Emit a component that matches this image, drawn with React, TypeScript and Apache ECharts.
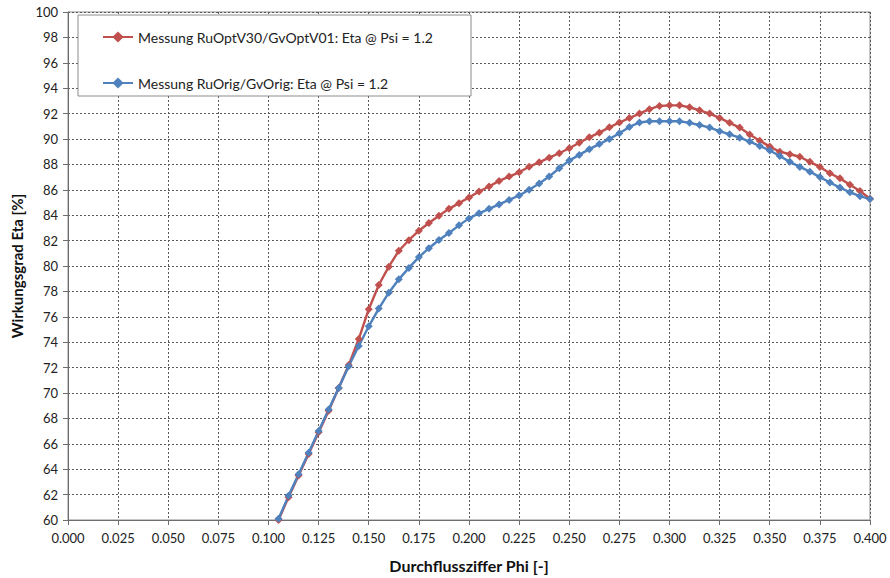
import React, { useEffect, useRef } from "react";
import * as echarts from "echarts";

const phi = [
  0.105, 0.11, 0.115, 0.12, 0.125, 0.13, 0.135, 0.14, 0.145, 0.15,
  0.155, 0.16, 0.165, 0.17, 0.175, 0.18, 0.185, 0.19, 0.195, 0.2,
  0.205, 0.21, 0.215, 0.22, 0.225, 0.23, 0.235, 0.24, 0.245, 0.25,
  0.255, 0.26, 0.265, 0.27, 0.275, 0.28, 0.285, 0.29, 0.295, 0.3,
  0.305, 0.31, 0.315, 0.32, 0.325, 0.33, 0.335, 0.34, 0.345, 0.35,
  0.355, 0.36, 0.365, 0.37, 0.375, 0.38, 0.385, 0.39, 0.395, 0.4,
];

const etaOptV30 = [
  60.0, 61.8, 63.5, 65.2, 66.9, 68.6, 70.4, 72.2, 74.25, 76.6,
  78.5, 79.95, 81.2, 82.03, 82.78, 83.38, 83.95, 84.5, 84.95, 85.4,
  85.87, 86.26, 86.7, 87.04, 87.38, 87.82, 88.16, 88.53, 88.88, 89.27,
  89.7, 90.13, 90.5, 90.92, 91.3, 91.65, 92.0, 92.35, 92.6, 92.65,
  92.65, 92.5, 92.26, 92.0, 91.66, 91.27, 90.9, 90.36, 89.87, 89.4,
  89.0, 88.8, 88.6, 88.2, 87.8, 87.3, 86.9, 86.4, 85.9, 85.3,
];

const etaOrig = [
  60.1, 61.9, 63.6, 65.3, 67.0, 68.7, 70.4, 72.1, 73.7, 75.25,
  76.65, 77.9, 78.95, 79.85, 80.7, 81.4, 82.05, 82.6, 83.2, 83.75,
  84.15, 84.5, 84.85, 85.2, 85.55, 86.0, 86.5, 87.05, 87.7, 88.3,
  88.75, 89.2, 89.6, 90.0, 90.45, 90.95, 91.3, 91.4, 91.4, 91.4,
  91.4, 91.27, 91.1, 90.9, 90.62, 90.37, 90.1, 89.8, 89.45, 89.1,
  88.66, 88.2, 87.8, 87.43, 87.0, 86.57, 86.18, 85.8, 85.5, 85.27,
];

const seriesNames = [
  "Messung RuOptV30/GvOptV01: Eta @ Psi = 1.2",
  "Messung RuOrig/GvOrig: Eta @ Psi = 1.2",
];
const xAxisTitle = "Durchflussziffer Phi [-]";
const yAxisTitle = "Wirkungsgrad Eta [%]";

const FONT = "Lato, 'Open Sans', sans-serif";

export default function App() {
  const ref = useRef<HTMLDivElement>(null);
  useEffect(() => {
    if (!ref.current) return;
    const chart = echarts.init(ref.current, undefined, { renderer: "svg" });
    const mk = (name: string, vals: number[], color: string) => ({
      name,
      type: "line",
      data: phi.map((p, i) => [p, vals[i]]),
      symbol: "diamond",
      symbolSize: 8,
      showSymbol: true,
      lineStyle: { color, width: 2.4 },
      itemStyle: { color },
      emphasis: { disabled: true },
    });
    chart.setOption({
      animation: false,
      textStyle: { fontFamily: FONT },
      grid: {
        left: 68,
        right: 20,
        top: 12,
        bottom: 58,
        show: true,
        borderColor: "#8c8c8c",
        borderWidth: 1,
        backgroundColor: "transparent",
      },
      legend: {
        left: 97,
        top: 25,
        orient: "vertical",
        itemWidth: 30,
        itemHeight: 14,
        itemGap: 32,
        z: 6,
        textStyle: { fontFamily: FONT, fontSize: 14, color: "#222" },
        data: seriesNames,
      },
      graphic: [
        {
          type: "rect",
          z: 5,
          shape: { x: 78, y: 15, width: 393, height: 81 },
          style: { fill: "#fff", stroke: "#8c8c8c", lineWidth: 1 },
        },
      ],
      xAxis: {
        type: "value",
        min: 0,
        max: 0.4,
        interval: 0.025,
        name: xAxisTitle,
        nameLocation: "middle",
        nameGap: 37,
        nameTextStyle: { fontFamily: FONT, fontSize: 16, fontWeight: "bold", color: "#111" },
        axisLine: { show: true, lineStyle: { color: "#6e6e6e", width: 1 } },
        axisTick: { show: true, inside: false, length: 5, lineStyle: { color: "#6e6e6e" } },
        axisLabel: {
          fontFamily: FONT,
          fontSize: 13,
          color: "#222",
          margin: 11,
          formatter: (v: number) => v.toFixed(3),
        },
        splitLine: { show: true, lineStyle: { color: "#5a5a5a", type: [2, 2], width: 1 } },
      },
      yAxis: {
        type: "value",
        min: 60,
        max: 100,
        interval: 2,
        name: yAxisTitle,
        nameLocation: "middle",
        nameGap: 42,
        nameRotate: 90,
        nameTextStyle: { fontFamily: FONT, fontSize: 15, fontWeight: "bold", color: "#111" },
        axisLine: { show: true, lineStyle: { color: "#6e6e6e", width: 1 } },
        axisTick: { show: true, inside: false, length: 5, lineStyle: { color: "#6e6e6e" } },
        axisLabel: { fontFamily: FONT, fontSize: 13, color: "#222", margin: 10 },
        splitLine: { show: true, lineStyle: { color: "#5a5a5a", type: [2, 2], width: 1 } },
      },
      series: [mk(seriesNames[0], etaOptV30, "#c0504d"), mk(seriesNames[1], etaOrig, "#4f81bd")],
    });
    return () => chart.dispose();
  }, []);
  return (
    <div
      ref={ref}
      style={{ position: "fixed", left: 0, top: 0, width: 890, height: 578, background: "#fff" }}
    />
  );
}
